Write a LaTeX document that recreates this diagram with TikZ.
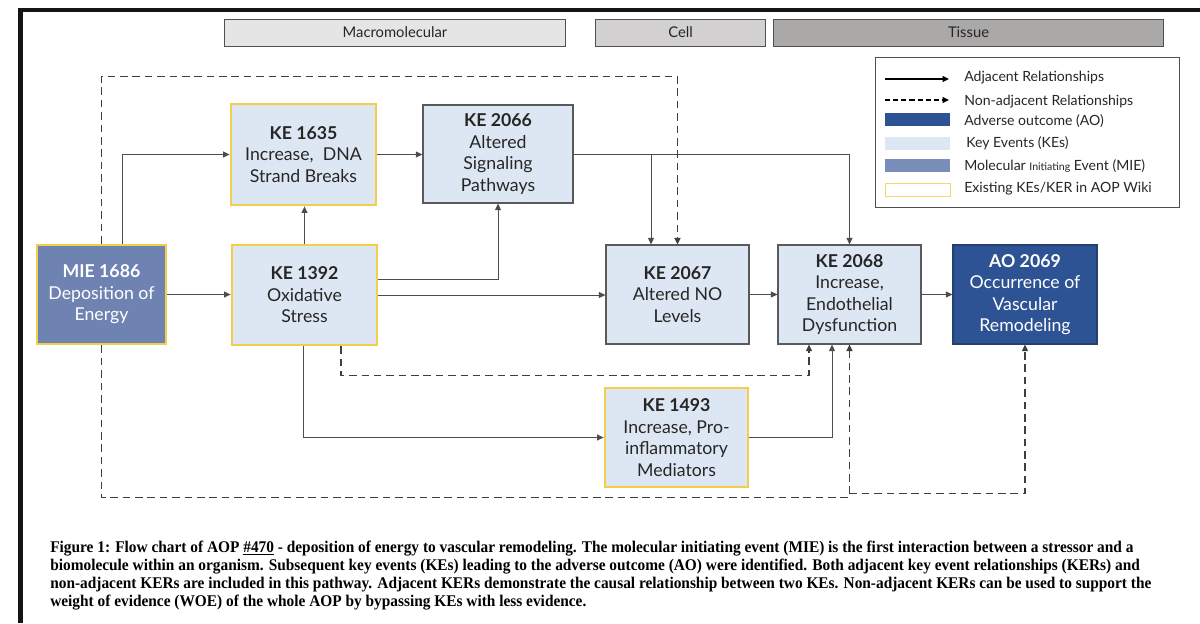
\documentclass[tikz,border=0pt]{standalone}
\usepackage{fontspec}
\setmainfont{Lato}
\newfontfamily\capfont{Liberation Serif}
\usetikzlibrary{calc,arrows.meta}

\definecolor{kefill}{HTML}{DDE7F3}
\definecolor{miefill}{HTML}{6F83B3}
\definecolor{aofill}{HTML}{2E5394}
\definecolor{aoline}{HTML}{24406F}
\definecolor{keyellow}{HTML}{F2CF4B}
\definecolor{boxline}{HTML}{5A5A5A}
\definecolor{linegray}{HTML}{4D4D4D}
\definecolor{dashgray}{HTML}{3F3F3F}
\definecolor{hdrline}{HTML}{505050}
\definecolor{hdrA}{HTML}{E6E5E5}
\definecolor{hdrB}{HTML}{D2D0D0}
\definecolor{hdrC}{HTML}{ABA8A8}
\definecolor{txt}{HTML}{262626}

% caption is set in condensed bold serif, narrowed to its column
\newcommand\capsize{\capfont\bfseries\fontsize{11.6}{13}\selectfont}
\newcommand\capfirst{Figure 1: Flow chart of AOP \underline{\#470} - deposition of energy to vascular remodeling. The molecular initiating event (MIE) is the first interaction between a stressor and a}
\newlength\capw
\AtBeginDocument{\settowidth\capw{\capsize\capfirst}\global\capw=\capw}

\tikzset{
  evt/.style={rectangle, align=center, inner sep=0pt, text=txt,
    font=\fontsize{12.6}{15.3}\selectfont},
  ke/.style={evt, fill=kefill, draw=boxline, line width=0.8pt},
  kewiki/.style={evt, fill=kefill, draw=keyellow, line width=2pt},
  mie/.style={evt, fill=miefill, draw=keyellow, line width=2pt, text=white},
  ao/.style={evt, fill=aofill, draw=aoline, line width=0.8pt, text=white},
  hdr/.style={rectangle, draw=hdrline, line width=0.7pt, minimum height=0.675cm,
    inner sep=0pt, text=txt, font=\fontsize{10.5}{12}\selectfont},
  tip/.style={-{Triangle[length=4.6pt,width=4.2pt]}},
  adj/.style={tip, draw=linegray, line width=0.6pt},
  nadj/.style={tip, draw=dashgray, line width=1pt, dash pattern=on 5.4pt off 3.4pt},
  legtext/.style={anchor=west, inner sep=0pt, text=txt, font=\fontsize{10}{12}\selectfont},
  swatch/.style={rectangle, minimum width=1.625cm, minimum height=0.33cm, inner sep=0pt},
  capline/.style={anchor=base west, inner sep=0pt, text=black, font=\capsize}
}

\begin{document}
\begin{tikzpicture}[x=0.025cm, y=-0.025cm]
\useasboundingbox (0,0) rectangle (1200,623);
\fill[white] (0,0) rectangle (1200,623);

% page frame
\fill[black!92] (18,8) rectangle (1200,12);
\fill[black!92] (18,8) rectangle (23,623);

% biological levels
\node[hdr, fill=hdrA, minimum width=8.5cm]   (lvmacro)  at (395,32.5)   {Macromolecular};
\node[hdr, fill=hdrB, minimum width=4.225cm] (lvcell)   at (680.5,32.5) {Cell};
\node[hdr, fill=hdrC, minimum width=9.725cm] (lvtissue) at (968.5,32.5) {Tissue};

% legend
\node[rectangle, draw=hdrline, line width=0.7pt, minimum width=7.575cm,
      minimum height=3.725cm, inner sep=0pt] (legend) at (1027.5,132.5) {};
\coordinate (la1) at (885,79);  \coordinate (la2) at (949,79);
\coordinate (lb1) at (885,100); \coordinate (lb2) at (949,100);
\draw[tip, draw=black, line width=0.8pt] (la1) -- (la2);
\draw[tip, draw=black, line width=0.8pt, dash pattern=on 3.6pt off 2.2pt] (lb1) -- (lb2);
\node[legtext] (lt1) at (964,78)  {Adjacent Relationships};
\node[legtext] (lt2) at (964,102) {Non-adjacent Relationships};
\node[swatch, fill=aofill] (sw1) at (917.5,119.5) {};
\node[legtext] (lt3) at (964,121) {Adverse outcome (AO)};
\node[swatch, fill=kefill] (sw2) at (917.5,143.5) {};
\node[legtext] (lt4) at (966,143) {Key Events (KEs)};
\node[swatch, fill=miefill!92] (sw3) at (917.5,165.5) {};
\node[legtext] (lt5) at (964,166) {Molecular {\fontsize{7.5}{9}\selectfont Initiating} Event (MIE)};
\node[swatch, fill=white, draw=keyellow!80, line width=0.5pt] (sw4) at (917.5,190) {};
\node[legtext] (lt6) at (964,189) {Existing KEs/KER in AOP Wiki};

% events
\node[mie, minimum width=3.225cm, minimum height=2.475cm] (mie1686) at (101.5,294.5)
  {\textbf{MIE 1686}\\Deposition of\\Energy};
\node[kewiki, minimum width=3.625cm, minimum height=2.5cm] (ke1392) at (304.5,295)
  {\textbf{KE 1392}\\Oxidative\\Stress};
\node[kewiki, minimum width=3.625cm, minimum height=2.525cm] (ke1635) at (303.5,154.5)
  {\textbf{KE 1635}\\Increase,~ DNA\\Strand Breaks};
\node[ke, minimum width=3.75cm, minimum height=2.45cm] (ke2066) at (498,154)
  {\textbf{KE 2066}\\Altered\\Signaling\\Pathways};
\node[ke, minimum width=3.575cm, minimum height=2.475cm] (ke2067) at (677.5,294.5)
  {\textbf{KE 2067}\\Altered NO\\Levels};
\node[ke, minimum width=3.575cm, minimum height=2.475cm] (ke2068) at (849.5,294.5)
  {\textbf{KE 2068}\\Increase,\\Endothelial\\Dysfunction};
\node[ao, minimum width=3.6cm, minimum height=2.475cm] (ao2069) at (1025,294.5)
  {\textbf{AO 2069}\\Occurrence of\\Vascular\\Remodeling};
\node[kewiki, minimum width=3.575cm, minimum height=2.475cm] (ke1493) at (676.5,437.5)
  {\textbf{KE 1493}\\Increase, Pro-\\inflammatory\\Mediators};

% adjacent relationships
\draw[adj] (mie1686.east) -- (mie1686.east -| ke1392.west);
\draw[adj] ($(mie1686.north)+(21,0)$) |- (ke1635.west);
\draw[adj] (ke1392.north) -- (ke1392.north |- ke1635.south);
\draw[adj] (ke1635.east) -- (ke1635.east -| ke2066.west);
\draw[adj] ($(ke1392.east)+(0,-16)$) -| (ke2066.south);
\draw[adj] (ke1392.east) -- (ke1392.east -| ke2067.west);
\draw[adj] (ke2066.east) -| (ke2068.north);
\draw[adj] (ke2066.east) -| ($(ke2067.north)+(-26.5,0)$);
\draw[adj] (ke2067.east) -- (ke2067.east -| ke2068.west);
\draw[adj] (ke2068.east) -- (ke2068.east -| ao2069.west);
\draw[adj] ($(ke1392.south)+(-1.5,0)$) |- (ke1493.west);
\draw[adj] (ke1493.east) -| ($(ke2068.south)+(-17.5,0)$);

% non-adjacent relationships
\draw[nadj] (mie1686.north) -- ++(0,-167) -| (ke2067.north);
\draw[nadj] ($(ke1392.south)+(36.5,0)$) -- ++(0,29) -| ($(ke2068.south)+(-40.5,0)$);
\draw[nadj] (mie1686.south) -- ++(0,152) -| (ke2068.south);
\coordinate (dsplit) at ($(ke2068.south)+(0,149)$);
\draw[nadj] (dsplit) -| (ao2069.south);

% caption
\pgfmathsetmacro\capsx{770.3/\capw}
\node[capline] (cap1) at (50,552) {\scalebox{\capsx}[1]{\capfirst}};
\node[capline] (cap2) at (50,570) {\scalebox{\capsx}[1]{biomolecule within an organism. Subsequent key events (KEs) leading to the adverse outcome (AO) were identified. Both adjacent key event relationships (KERs) and}};
\node[capline] (cap3) at (50,588) {\scalebox{\capsx}[1]{non-adjacent KERs are included in this pathway. Adjacent KERs demonstrate the causal relationship between two KEs. Non-adjacent KERs can be used to support the}};
\node[capline] (cap4) at (50,606) {\scalebox{\capsx}[1]{weight of evidence (WOE) of the whole AOP by bypassing KEs with less evidence.}};
\end{tikzpicture}
\end{document}
